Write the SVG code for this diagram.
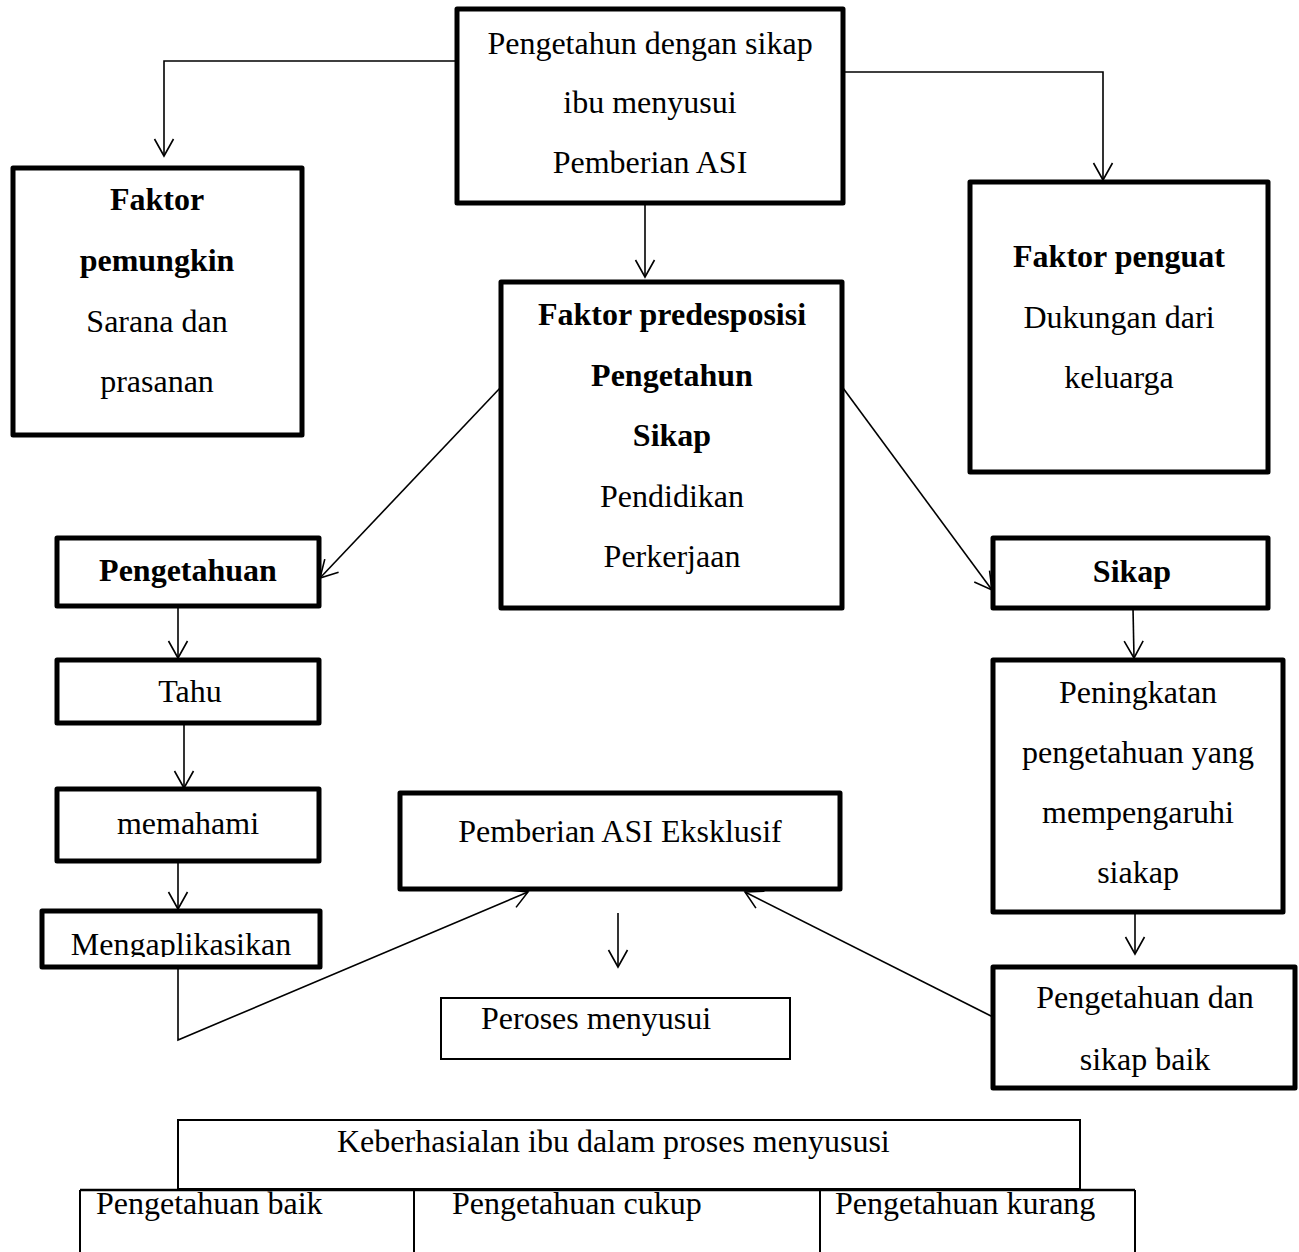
<svg xmlns="http://www.w3.org/2000/svg" width="1299" height="1252" viewBox="0 0 1299 1252">
<style>
.box{fill:#fff;stroke:#000;stroke-width:5;stroke-linejoin:round}
.thin{fill:#fff;stroke:#000;stroke-width:2}
.t{font-family:"Liberation Serif","Times New Roman",serif;font-size:32px;fill:#000}
.c{text-anchor:middle}
.b{font-weight:bold}
.con{fill:none;stroke:#000;stroke-width:1.6}
</style>
<defs>
<marker id="arr" markerUnits="userSpaceOnUse" markerWidth="22" markerHeight="22" viewBox="0 0 22 22" refX="19" refY="11" orient="auto">
<path d="M2,1.5 L19,11 L2,20.5" fill="none" stroke="#000" stroke-width="1.6"/>
</marker>
<clipPath id="clipM"><rect x="42" y="911" width="278" height="46"/></clipPath>
</defs>
<rect width="1299" height="1252" fill="#fff"/>

<g id="connectors" class="con">
<polyline points="457,61 164,61 164,156" marker-end="url(#arr)"/>
<polyline points="843,72 1103,72 1103,180" marker-end="url(#arr)"/>
<line x1="645" y1="203" x2="645" y2="277" marker-end="url(#arr)"/>
<line x1="501" y1="387" x2="320" y2="578" marker-end="url(#arr)"/>
<line x1="843" y1="388" x2="992" y2="590" marker-end="url(#arr)"/>
<line x1="178" y1="606" x2="178" y2="658" marker-end="url(#arr)"/>
<line x1="184" y1="723" x2="184" y2="788" marker-end="url(#arr)"/>
<line x1="178" y1="861" x2="178" y2="909" marker-end="url(#arr)"/>
<polyline points="178,967 178,1040 528,892" marker-end="url(#arr)"/>
<line x1="1133" y1="608" x2="1134" y2="658" marker-end="url(#arr)"/>
<line x1="1135" y1="912" x2="1135" y2="954" marker-end="url(#arr)"/>
<line x1="993" y1="1017" x2="745" y2="892" marker-end="url(#arr)"/>
<line x1="618" y1="913" x2="618" y2="967" marker-end="url(#arr)"/>
</g>

<g id="n-top">
<rect class="box" x="457" y="9" width="386" height="194"/>
<text class="t c" x="650" y="54">Pengetahun dengan sikap</text>
<text class="t c" x="650" y="113">ibu menyusui</text>
<text class="t c" x="650" y="173">Pemberian ASI</text>
</g>

<g id="n-pemungkin">
<rect class="box" x="13" y="168" width="289" height="267"/>
<text class="t c b" x="157" y="210">Faktor</text>
<text class="t c b" x="157" y="271">pemungkin</text>
<text class="t c" x="157" y="332">Sarana dan</text>
<text class="t c" x="157" y="392">prasanan</text>
</g>

<g id="n-penguat">
<rect class="box" x="970" y="182" width="298" height="290"/>
<text class="t c b" x="1119" y="267">Faktor penguat</text>
<text class="t c" x="1119" y="328">Dukungan dari</text>
<text class="t c" x="1119" y="388">keluarga</text>
</g>

<g id="n-predesposisi">
<rect class="box" x="501" y="282" width="341" height="326"/>
<text class="t c b" x="672" y="325">Faktor predesposisi</text>
<text class="t c b" x="672" y="386">Pengetahun</text>
<text class="t c b" x="672" y="446">Sikap</text>
<text class="t c" x="672" y="507">Pendidikan</text>
<text class="t c" x="672" y="567">Perkerjaan</text>
</g>

<g id="n-pengetahuan">
<rect class="box" x="57" y="538" width="262" height="68"/>
<text class="t c b" x="188" y="581">Pengetahuan</text>
</g>

<g id="n-sikap">
<rect class="box" x="993" y="538" width="275" height="70"/>
<text class="t c b" x="1132" y="582">Sikap</text>
</g>

<g id="n-tahu">
<rect class="box" x="57" y="660" width="262" height="63"/>
<text class="t c" x="190" y="702">Tahu</text>
</g>

<g id="n-memahami">
<rect class="box" x="57" y="789" width="262" height="72"/>
<text class="t c" x="188" y="834">memahami</text>
</g>

<g id="n-mengaplikasikan">
<rect class="box" x="42" y="911" width="278" height="56"/>
<text class="t c" x="181" y="955" clip-path="url(#clipM)">Mengaplikasikan</text>
</g>

<g id="n-eksklusif">
<rect class="box" x="400" y="793" width="440" height="96"/>
<text class="t c" x="620" y="842">Pemberian ASI Eksklusif</text>
</g>

<g id="n-peroses">
<rect class="thin" x="441" y="998" width="349" height="61"/>
<text class="t" x="481" y="1029">Peroses menyusui</text>
</g>

<g id="n-peningkatan">
<rect class="box" x="993" y="660" width="290" height="252"/>
<text class="t c" x="1138" y="703">Peningkatan</text>
<text class="t c" x="1138" y="763">pengetahuan yang</text>
<text class="t c" x="1138" y="823">mempengaruhi</text>
<text class="t c" x="1138" y="883">siakap</text>
</g>

<g id="n-baik">
<rect class="box" x="993" y="967" width="302" height="121"/>
<text class="t c" x="1145" y="1008">Pengetahuan dan</text>
<text class="t c" x="1145" y="1070">sikap baik</text>
</g>

<g id="n-keberhasilan">
<rect class="thin" x="178" y="1120" width="902" height="69"/>
<text class="t" x="337" y="1152">Keberhasialan ibu dalam proses menyususi</text>
</g>

<g id="n-table">
<line x1="80" y1="1190" x2="1135" y2="1190" stroke="#000" stroke-width="2.5"/>
<line x1="80" y1="1190" x2="80" y2="1252" stroke="#000" stroke-width="2"/>
<line x1="414" y1="1190" x2="414" y2="1252" stroke="#000" stroke-width="2"/>
<line x1="820" y1="1190" x2="820" y2="1252" stroke="#000" stroke-width="2"/>
<line x1="1135" y1="1190" x2="1135" y2="1252" stroke="#000" stroke-width="2"/>
<text class="t" x="96" y="1214">Pengetahuan baik</text>
<text class="t" x="452" y="1214">Pengetahuan cukup</text>
<text class="t" x="835" y="1214">Pengetahuan kurang</text>
</g>
</svg>
